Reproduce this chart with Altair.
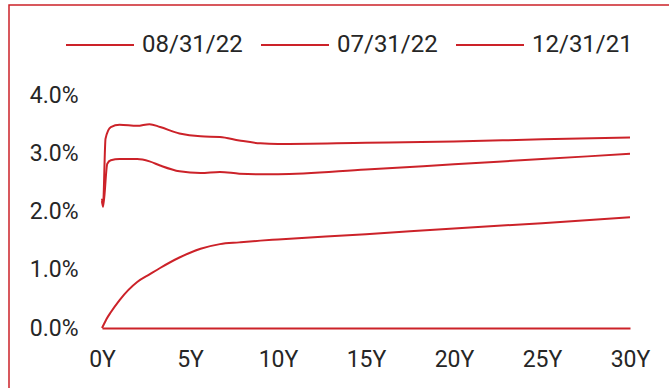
import altair as alt
import pandas as pd

RED = "#CC2229"

series_names = ["08/31/22", "07/31/22", "12/31/21"]

tenor_aug = [0, 0.06, 0.2, 0.5, 1, 2, 2.7, 3.3, 4.4, 5.6, 6.7, 7.8, 9, 10, 15, 20, 25, 30]
yield_aug = [2.22, 2.12, 3.25, 3.45, 3.49, 3.47, 3.50, 3.45, 3.34, 3.29, 3.28, 3.22, 3.17, 3.16, 3.18, 3.20, 3.24, 3.27]

tenor_jul = [0, 0.06, 0.3, 0.5, 1, 2, 2.7, 3.3, 4.4, 5.6, 6.7, 7.8, 9, 10, 15, 20, 25, 30]
yield_jul = [2.18, 2.08, 2.82, 2.88, 2.90, 2.90, 2.86, 2.79, 2.69, 2.66, 2.68, 2.65, 2.64, 2.64, 2.72, 2.81, 2.90, 2.99]

tenor_dec = [0, 0.1, 0.25, 0.5, 1, 2, 2.7, 3.3, 4.4, 5.6, 6.7, 7.8, 9, 10, 15, 20, 25, 30]
yield_dec = [0.0, 0.06, 0.15, 0.27, 0.48, 0.79, 0.92, 1.03, 1.21, 1.36, 1.44, 1.47, 1.50, 1.52, 1.61, 1.71, 1.80, 1.90]

x_ticks = [0, 5, 10, 15, 20, 25, 30]
y_ticks = [0, 1, 2, 3, 4]

rows = []
for name, ts, ys in zip(series_names, [tenor_aug, tenor_jul, tenor_dec], [yield_aug, yield_jul, yield_dec]):
    for t, v in zip(ts, ys):
        rows.append({"series": name, "tenor": t, "yield": v})
df = pd.DataFrame(rows)

FONT = "Roboto"

lines = alt.Chart(df).mark_line(strokeWidth=2, interpolate="monotone").encode(
    x=alt.X("tenor:Q", scale=alt.Scale(domain=[0, 30], nice=False, zero=False),
            axis=alt.Axis(values=x_ticks, labelExpr="datum.value + 'Y'", title=None,
                          grid=False, ticks=False, domain=True, domainColor=RED,
                          domainWidth=2, labelPadding=20, labelFontSize=23,
                          labelFont=FONT, labelColor="#262626", labelFlush=False)),
    y=alt.Y("yield:Q", scale=alt.Scale(domain=[0, 4], nice=False),
            axis=alt.Axis(values=y_ticks, labelExpr="format(datum.value, '.1f') + '%'",
                          title=None, grid=False, ticks=False, domain=False,
                          labelPadding=24, labelFontSize=23, labelFont=FONT,
                          labelColor="#262626")),
    color=alt.Color("series:N",
                    scale=alt.Scale(domain=series_names, range=[RED, RED, RED]),
                    sort=series_names,
                    legend=alt.Legend(orient="none", direction="horizontal",
                                      legendX=-37, legendY=-85, title=None,
                                      symbolType="stroke", symbolSize=4624,
                                      symbolStrokeWidth=2, labelOffset=7,
                                      columnPadding=14, labelFontSize=24,
                                      labelFont=FONT, labelColor="#262626")),
    detail="series:N",
)

frame = alt.Chart(pd.DataFrame({"k": [0]})).mark_rect(
    fill=None, stroke=RED, strokeWidth=1.5
).encode(
    x=alt.value(-93), x2=alt.value(600), y=alt.value(-90), y2=alt.value(400)
)

chart = alt.layer(frame, lines).properties(
    width=528, height=233,
    padding={"left": 102, "top": 95, "right": 39, "bottom": 60},
    autosize=alt.AutoSizeParams(type="none"),
    background="white",
).configure_view(stroke=None)

chart.save("out.html", embed_options={"renderer": "svg", "actions": False})
